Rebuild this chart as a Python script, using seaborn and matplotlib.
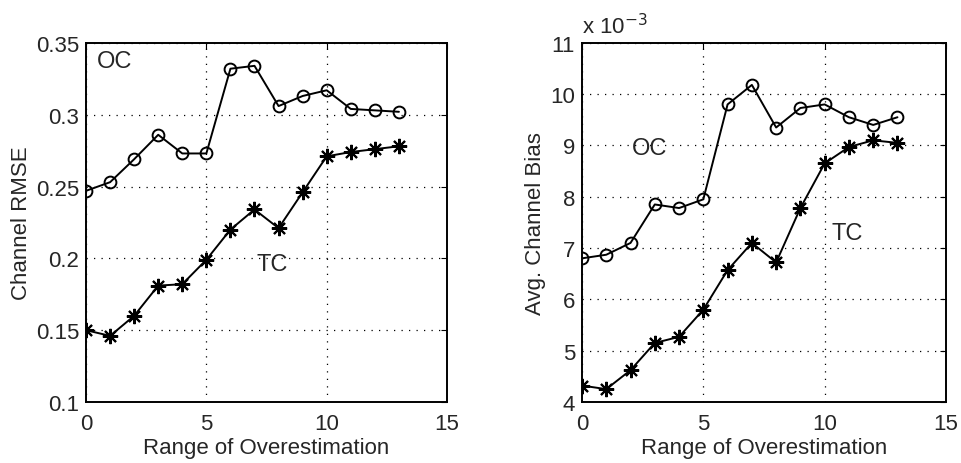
import matplotlib
matplotlib.use("Agg")
import matplotlib.pyplot as plt
import seaborn as sns
import pandas as pd
from matplotlib.ticker import FuncFormatter

x_range = list(range(14))
rmse_oc = [0.247, 0.253, 0.269, 0.286, 0.273, 0.273, 0.332, 0.334, 0.306, 0.313, 0.317, 0.304, 0.303, 0.302]
rmse_tc = [0.150, 0.146, 0.160, 0.181, 0.182, 0.199, 0.220, 0.234, 0.221, 0.246, 0.271, 0.274, 0.276, 0.278]
bias_oc = [6.80e-3, 6.87e-3, 7.10e-3, 7.85e-3, 7.78e-3, 7.95e-3, 9.80e-3, 10.18e-3, 9.35e-3, 9.73e-3, 9.80e-3, 9.55e-3, 9.40e-3, 9.55e-3]
bias_tc = [4.32e-3, 4.25e-3, 4.62e-3, 5.15e-3, 5.27e-3, 5.80e-3, 6.57e-3, 7.10e-3, 6.72e-3, 7.78e-3, 8.65e-3, 8.97e-3, 9.10e-3, 9.05e-3]

sns.set_style("white")
plt.rcParams['font.family'] = ['Liberation Sans', 'DejaVu Sans']
plt.rcParams['font.size'] = 15

fig = plt.figure(figsize=(9.61, 4.64), dpi=100)
ax1 = fig.add_axes([0.0895, 0.1315, 0.3757, 0.774])
ax2 = fig.add_axes([0.6056, 0.1315, 0.3788, 0.774])

asterisk = (8, 2, 0)
FS = 16

def draw(ax, oc, tc):
    df = pd.DataFrame({"x": x_range, "oc": oc, "tc": tc})
    sns.lineplot(data=df, x="x", y="oc", ax=ax, color="black", lw=1.4,
                 marker="o", markersize=8.5, markerfacecolor="none",
                 markeredgecolor="black", markeredgewidth=1.4)
    sns.lineplot(data=df, x="x", y="tc", ax=ax, color="black", lw=1.4,
                 marker=asterisk, markersize=11, markeredgecolor="black",
                 markeredgewidth=1.5)
    ax.set_xlim(0, 15)
    ax.set_xticks([0, 5, 10, 15])
    ax.grid(True, color="black", linestyle=(0, (1, 5)), linewidth=0.9)
    ax.tick_params(direction="in", top=True, right=True, length=4,
                   labelsize=FS, color="black")
    ax.tick_params(axis="x", pad=8)
    ax.tick_params(axis="y", pad=5)
    for s in ax.spines.values():
        s.set_color("black")
        s.set_linewidth(1.4)
    ax.set_xlabel("Range of Overestimation", fontsize=FS, labelpad=2)

draw(ax1, rmse_oc, rmse_tc)
ax1.set_ylim(0.1, 0.35)
ax1.set_yticks([0.1, 0.15, 0.2, 0.25, 0.3, 0.35])
ax1.yaxis.set_major_formatter(FuncFormatter(lambda v, p: f"{v:g}"))
ax1.set_ylabel("Channel RMSE", fontsize=FS, labelpad=3)
ax1.text(0.45, 0.3375, "OC", fontsize=17, va="center", ha="left")
ax1.text(7.1, 0.196, "TC", fontsize=17, va="center", ha="left")

draw(ax2, bias_oc, bias_tc)
ax2.set_ylim(4e-3, 11e-3)
ax2.set_yticks([v * 1e-3 for v in range(4, 12)])
ax2.yaxis.set_major_formatter(FuncFormatter(lambda v, p: f"{v*1e3:.0f}"))
ax2.set_ylabel("Avg. Channel Bias", fontsize=FS, labelpad=3)
ax2.text(2.05, 8.95e-3, "OC", fontsize=17, va="center", ha="left")
ax2.text(10.3, 7.3e-3, "TC", fontsize=17, va="center", ha="left")
ax2.text(0.0, 1.012, r"x 10$^{-3}$", transform=ax2.transAxes, fontsize=FS,
         ha="left", va="bottom")

fig.savefig("out.png", dpi=100)
